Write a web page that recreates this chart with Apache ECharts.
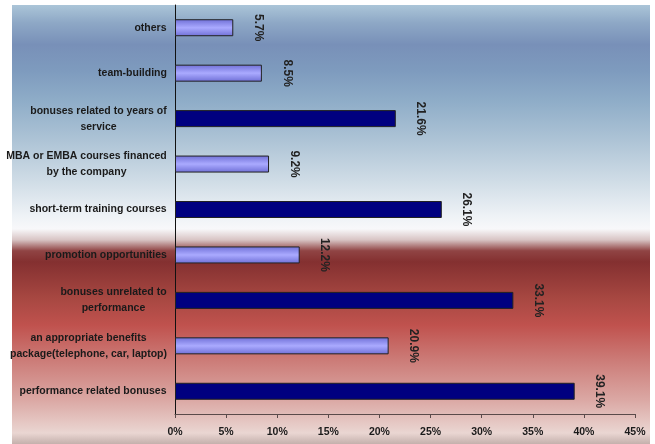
<!DOCTYPE html>
<html>
<head>
<meta charset="utf-8">
<script src="https://cdn.jsdelivr.net/npm/echarts@6/dist/echarts.min.js"></script>
<style>
  html, body { margin: 0; padding: 0; background: #fff; }
  #chart { width: 655px; height: 444px; }
</style>
</head>
<body>
<div id="chart"></div>
<script>
// 数据（从上到下）
const categories = [
  'others',
  'team-building',
  'bonuses related to years of\nservice',
  'MBA or EMBA courses financed\nby the company',
  'short-term training courses',
  'promotion opportunities',
  'bonuses unrelated to\nperformance',
  'an appropriate benefits\npackage(telephone, car, laptop)',
  'performance related bonuses'
];
const values = [5.7, 8.5, 21.6, 9.2, 26.1, 12.2, 33.1, 20.9, 39.1];
// true = 浅紫色柱, false = 深蓝色柱
const lightBar = [true, true, false, true, false, true, false, true, false];
const xTicks = [0, 5, 10, 15, 20, 25, 30, 35, 40, 45];

const labelFont = 'Liberation Sans Narrow, Arial Narrow, Liberation Sans, Arial, sans-serif';
const labelSize = 10.5;

// 多行标签居中：按最长行宽度建 rich 样式
const ctx = document.createElement('canvas').getContext('2d');
ctx.font = 'bold ' + labelSize + 'px ' + labelFont;
const rich = {};
categories.forEach((c, i) => {
  const w = Math.max(...c.split('\n').map(s => ctx.measureText(s).width));
  rich['w' + i] = {
    width: Math.ceil(w), align: 'center', fontFamily: labelFont,
    fontWeight: 'bold', fontSize: labelSize, color: '#1a1a1a', lineHeight: 16
  };
});

const lightFill = new echarts.graphic.LinearGradient(0, 0, 0, 1, [
  { offset: 0, color: '#6f6fd6' },
  { offset: 0.5, color: '#aaaaff' },
  { offset: 1, color: '#6f6fd6' }
]);

const chart = echarts.init(document.getElementById('chart'));
chart.setOption({
  animation: false,
  graphic: [{
    type: 'rect',
    z: -10,
    shape: { x: 12, y: 5, width: 638, height: 439 },
    style: {
      fill: new echarts.graphic.LinearGradient(0, 0, 0, 1, [
        { offset: 0.00, color: '#abc5d8' },
        { offset: 0.04, color: '#8ea8c6' },
        { offset: 0.09, color: '#7890b8' },
        { offset: 0.15, color: '#7e9bbe' },
        { offset: 0.22, color: '#8fadc8' },
        { offset: 0.31, color: '#aec4d6' },
        { offset: 0.40, color: '#cfdce6' },
        { offset: 0.48, color: '#eef2f6' },
        { offset: 0.51, color: '#f8f8fa' },
        { offset: 0.535, color: '#d8c4c4' },
        { offset: 0.56, color: '#904444' },
        { offset: 0.585, color: '#843030' },
        { offset: 0.67, color: '#a84842' },
        { offset: 0.73, color: '#c0524e' },
        { offset: 0.81, color: '#cc7c78' },
        { offset: 0.90, color: '#dba8a4' },
        { offset: 0.975, color: '#ead6d2' },
        { offset: 1.00, color: '#c4b0ac' }
      ])
    }
  }],
  grid: { left: 175, right: 20, top: 5, bottom: 30, containLabel: false, outerBoundsMode: 'none' },
  xAxis: {
    type: 'value',
    min: 0,
    max: 45,
    interval: 5,
    splitLine: { show: false },
    axisLine: { show: true, lineStyle: { color: '#5a4a4a', width: 1 } },
    axisTick: { show: true, length: 4, lineStyle: { color: '#5a4a4a' } },
    axisLabel: {
      margin: 13,
      fontFamily: labelFont,
      fontWeight: 'bold',
      fontSize: 10.5,
      color: '#1a1a1a',
      formatter: v => xTicks.includes(v) ? v + '%' : ''
    }
  },
  yAxis: {
    type: 'category',
    inverse: true,
    data: categories,
    axisLine: { show: true, lineStyle: { color: '#111', width: 1 } },
    axisTick: { show: false },
    axisLabel: {
      margin: 8,
      align: 'right',
      formatter: (v, i) => v.split('\n').map(s => '{w' + i + '|' + s + '}').join('\n'),
      rich: rich
    }
  },
  series: [{
    type: 'bar',
    barWidth: 17,
    data: values.map((v, i) => ({
      value: v,
      itemStyle: {
        color: lightBar[i] ? lightFill : '#000080',
        borderColor: '#222',
        borderWidth: 1
      }
    })),
    label: {
      show: true,
      position: 'right',
      distance: 25,
      rotate: -90,
      align: 'center',
      verticalAlign: 'middle',
      fontFamily: 'Liberation Sans, Arial, sans-serif',
      fontWeight: 'bold',
      fontSize: 12,
      color: '#222',
      formatter: p => p.value.toFixed(1) + '%'
    }
  }]
});
</script>
</body>
</html>
